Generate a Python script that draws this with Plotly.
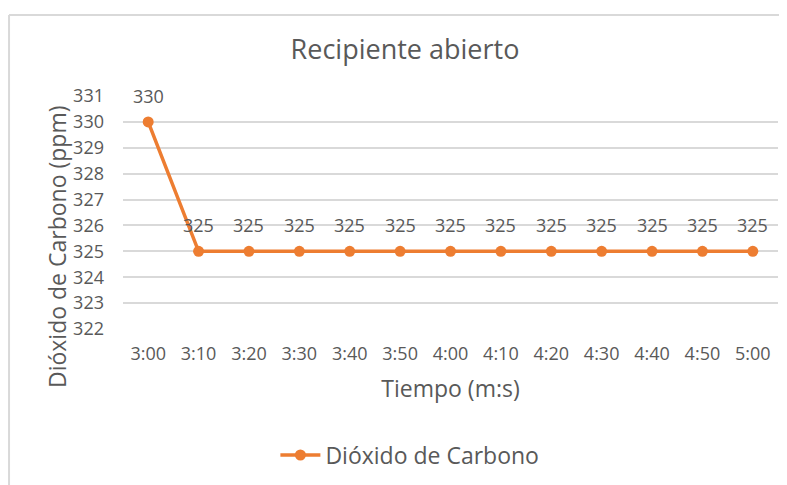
import plotly.graph_objects as go

tiempos = ["3:00", "3:10", "3:20", "3:30", "3:40", "3:50", "4:00",
           "4:10", "4:20", "4:30", "4:40", "4:50", "5:00"]
co2 = [330, 325, 325, 325, 325, 325, 325, 325, 325, 325, 325, 325, 325]
y_ticks = list(range(322, 332))

FONT = "Open Sans"
GREY = "#595959"
ORANGE = "#ED7D31"

fig = go.Figure()
fig.add_trace(go.Scatter(
    x=tiempos, y=co2, mode="lines+markers", name="Dióxido de Carbono",
    line=dict(color=ORANGE, width=3.5),
    marker=dict(color=ORANGE, size=11),
))

for t, v in zip(tiempos, co2):
    fig.add_annotation(x=t, y=v, text=str(v), showarrow=False, yshift=26,
                       font=dict(family=FONT, size=18, color=GREY))

# y-axis title (placed as in the original, slightly below plot centre)
fig.add_annotation(xref="paper", yref="paper", x=-0.1008, y=0.356,
                   text="Dióxido de Carbono (ppm)", textangle=-90,
                   showarrow=False, xanchor="center", yanchor="middle",
                   font=dict(family=FONT, size=23, color=GREY))

# chart border (partially cropped)
fig.add_shape(type="line", xref="paper", yref="paper",
              x0=-0.174, x1=1.2, y0=1.3476, y1=1.3476,
              line=dict(color="#d9d9d9", width=2))
fig.add_shape(type="line", xref="paper", yref="paper",
              x0=-0.174, x1=-0.174, y0=-0.8, y1=1.3476,
              line=dict(color="#d9d9d9", width=2))

fig.update_layout(
    width=779, height=477,
    margin=dict(l=115, r=9, t=88, b=156),
    paper_bgcolor="white", plot_bgcolor="white",
    font=dict(family=FONT, color=GREY),
    title=dict(text="Recipiente abierto", x=0.5096, xanchor="center",
               y=0.912, yanchor="middle",
               font=dict(family=FONT, size=27, color=GREY)),
    showlegend=True,
    legend=dict(orientation="h", x=0.438, xanchor="center", y=-0.541,
                yanchor="middle", font=dict(family=FONT, size=23, color=GREY),
                itemwidth=40),
    xaxis=dict(type="category", categoryorder="array", categoryarray=tiempos,
               range=[-0.5, len(tiempos) - 0.5],
               showgrid=False, showline=False, zeroline=False, automargin=False,
               ticks="", ticklen=0, tickfont=dict(family=FONT, size=18, color=GREY),
               ticklabelstandoff=12,
               title=dict(text="Tiempo (m:s)", standoff=16,
                          font=dict(family=FONT, size=23, color=GREY))),
    yaxis=dict(range=[322, 331], tickvals=y_ticks, showgrid=True,
               gridcolor="#d9d9d9", gridwidth=1.5, zeroline=False, automargin=False,
               showline=False, ticks="", ticklen=0,
               tickfont=dict(family=FONT, size=18, color=GREY),
               ticklabelstandoff=18),
)

fig.write_html("out.html")
